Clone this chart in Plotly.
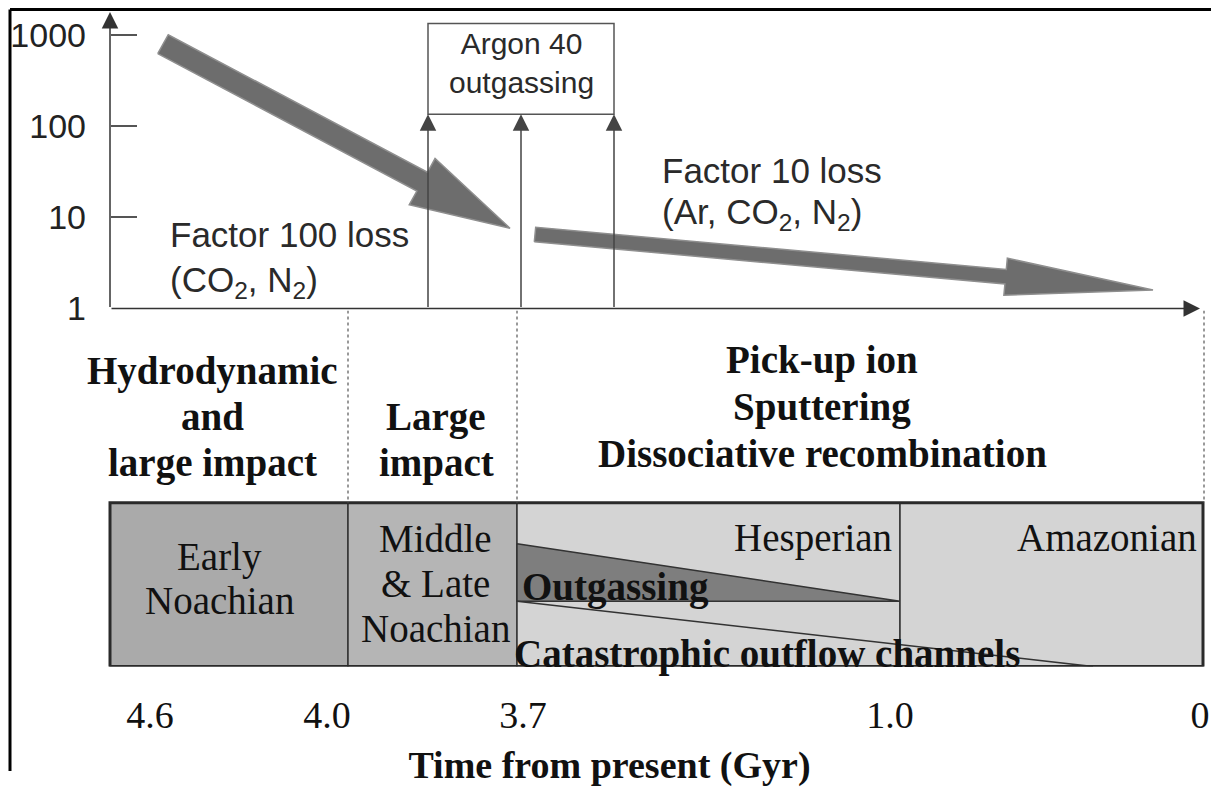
import numpy as np
import plotly.graph_objects as go

# ---- data -------------------------------------------------------------
y_ticks = [1, 10, 100, 1000]
y_tick_text = ["1", "10", "100", "1000"]

# atmospheric loss arrows (relative inventory at start / end)
loss_start = [800, 6.5]
loss_end = [7.6, 1.6]

argon_top = 136          # argon-40 outgassing arrows reach the box
argon_box_top = 1350

time_labels = ["4.6", "4.0", "3.7", "1.0", "0"]
eras = [["Early", "Noachian"], ["Middle", "& Late", "Noachian"], ["Hesperian"], ["Amazonian"]]
mechanisms = [
    ["Hydrodynamic", "and", "large impact"],
    ["Large", "impact"],
    ["Pick-up ion", "Sputtering", "Dissociative recombination"],
]

# ---- schematic layout (page-pixel-like units) ------------------------------
W, H = 1219, 798
OFF = 8                          # the page body margin
FW, FH = W - 2 * OFF, H - 2 * OFF


def px(p):                       # page x -> paper x
    return (p - OFF) / FW


def py(p):                       # page y -> paper y
    return 1 - (p - OFF) / FH


AX_X = 110                       # y axis position
TOP_PIX, BASE_PIX = 12, 316      # top panel vertical extent
LOG_TOP = 3 * (BASE_PIX - TOP_PIX) / (BASE_PIX - 36)
K = (BASE_PIX - TOP_PIX) / LOG_TOP   # px per decade

loss_x = [(163, 510), (535, 1153)]
loss_shape = [(11, 27, 100), (7.5, 19, 148)]
argon_x = [428, 521, 614]
tick_x = [150, 327, 523, 890, 1200]
era_edges = [110, 348, 517, 900, 1203]
era_colors = ["#aaaaaa", "#b5b5b5", "#d4d4d4", "#d4d4d4"]
dotted_x = [348, 517, 1204]
BAND_TOP, BAND_BOT = 515, 683

SANS = "Liberation Sans"
SERIF = "Liberation Serif"

fig = go.Figure()


def arrow_poly(x0, v0, x1, v1, half, head_half, head_len):
    a = np.array([x0, -np.log10(v0) * K])
    b = np.array([x1, -np.log10(v1) * K])
    d = (b - a) / np.linalg.norm(b - a)
    n = np.array([-d[1], d[0]])
    base = b - d * head_len
    pts = [a + n * half, base + n * half, base + n * head_half, b,
           base - n * head_half, base - n * half, a - n * half, a + n * half]
    xs = [p[0] for p in pts]
    vs = [10 ** (-p[1] / K) for p in pts]
    return xs, vs


for (x0, x1), (v0, v1), shp in zip(loss_x, zip(loss_start, loss_end), loss_shape):
    xs, vs = arrow_poly(x0, v0, x1, v1, *shp)
    fig.add_trace(go.Scatter(x=xs, y=vs, mode="lines", fill="toself",
                             fillcolor="#6d6d6d", line=dict(color="#8f8f8f", width=1.5),
                             hoverinfo="skip", xaxis="x", yaxis="y"))

# outgassing triangle and catastrophic outflow wedge in the time band
fig.add_trace(go.Scatter(x=[era_edges[2], era_edges[3], era_edges[2], era_edges[2]],
                         y=[557, 616, 616, 557], mode="lines", fill="toself",
                         fillcolor="#7e7e7e", line=dict(color="#333", width=1.5),
                         hoverinfo="skip", xaxis="x2", yaxis="y2"))
fig.add_trace(go.Scatter(x=[era_edges[2], 1093], y=[616, BAND_BOT], mode="lines",
                         line=dict(color="#333", width=1.5),
                         hoverinfo="skip", xaxis="x2", yaxis="y2"))

shapes = []
# era band
for i in range(len(eras)):
    shapes.append(dict(type="rect", xref="x2", yref="y2", x0=era_edges[i], x1=era_edges[i + 1],
                       y0=BAND_TOP, y1=BAND_BOT, fillcolor=era_colors[i],
                       line=dict(color="#333", width=1.5), layer="below"))
shapes.append(dict(type="rect", xref="x2", yref="y2", x0=era_edges[0], x1=era_edges[-1],
                   y0=BAND_TOP, y1=BAND_BOT, line=dict(color="#2a2a2a", width=3)))
for x in dotted_x:
    shapes.append(dict(type="line", xref="x2", yref="y2", x0=x, x1=x, y0=BASE_PIX + 2, y1=BAND_TOP,
                       line=dict(color="#777", width=1.5, dash="dot")))
# argon box
shapes.append(dict(type="rect", xref="x", yref="y", x0=argon_x[0], x1=argon_x[-1],
                   y0=argon_top, y1=argon_box_top,
                   line=dict(color="#555", width=1.5), fillcolor="white"))
# frame
shapes += [
    dict(type="line", xref="paper", yref="paper", x0=px(10), x1=px(10), y0=0, y1=py(9.5),
         line=dict(color="black", width=3)),
    dict(type="line", xref="paper", yref="paper", x0=px(10), x1=1, y0=py(9.5), y1=py(9.5),
         line=dict(color="black", width=3)),
]

ann = []


def arrow(x, y, ax, ay, color="#333"):
    return dict(x=x, y=y, ax=ax, ay=ay, xref="x", yref="y", axref="x", ayref="y", text="",
                showarrow=True, arrowhead=2, arrowsize=2.2, arrowwidth=1.5, arrowcolor=color)


def text_lines(lines, x, y0, step, font, xanchor="center", bold=False):
    out = []
    for i, t in enumerate(lines):
        out.append(dict(x=x, y=y0 + i * step, xref="x2", yref="y2",
                        text=f"<b>{t}</b>" if bold else t, xanchor=xanchor,
                        showarrow=False, font=font))
    return out


ann.append(arrow(AX_X, LOG_TOP, AX_X, 0))
ann.append(arrow(1200, 0, AX_X, 0))
for x in argon_x:
    ann.append(arrow(x, np.log10(argon_top), x, 0, "#444"))

top_font = dict(family=SANS, size=35, color="#2a2a2a")
ann += [
    dict(x=521, y=2.7, xref="x", yref="y", text="Argon 40<br>outgassing", showarrow=False,
         font=dict(family=SANS, size=30, color="#2a2a2a")),
    dict(x=168, y=0.814, xref="x", yref="y", text="Factor 100 loss", xanchor="left",
         showarrow=False, font=top_font),
    dict(x=168, y=0.29, xref="x", yref="y", text="(CO<sub>2</sub>, N<sub>2</sub>)", xanchor="left",
         showarrow=False, font=top_font),
    dict(x=660, y=1.511, xref="x", yref="y", text="Factor 10 loss", xanchor="left",
         showarrow=False, font=top_font),
    dict(x=660, y=1.04, xref="x", yref="y", text="(Ar, CO<sub>2</sub>, N<sub>2</sub>)",
         xanchor="left", showarrow=False, font=top_font),
]

serif_font = dict(family=SERIF, size=39, color="#111")
ann += text_lines(mechanisms[0], 212, 380, 47, serif_font, bold=True)
ann += text_lines(mechanisms[1], 436, 427, 47, serif_font, bold=True)
ann += text_lines(mechanisms[2], 822, 369, 48, serif_font, bold=True)

ann += text_lines(eras[0], 219, 571, 44, serif_font)
ann += text_lines(eras[1], 435, 552, 46, serif_font)
ann += text_lines(eras[2], 894, 551, 0, serif_font, xanchor="right")
ann += text_lines(eras[3], 1199, 551, 0, serif_font, xanchor="right")
ann += text_lines(["Outgassing"], 520, 601, 0, serif_font, xanchor="left", bold=True)
ann += text_lines(["Catastrophic outflow channels"], 512, 670, 0, serif_font, xanchor="left", bold=True)

fig.update_layout(
    width=FW, height=FH, margin=dict(l=0, r=0, t=0, b=0),
    paper_bgcolor="white", plot_bgcolor="rgba(0,0,0,0)", showlegend=False,
    xaxis=dict(range=[OFF, OFF + FW], domain=[0, 1], anchor="y", visible=False),
    yaxis=dict(type="log", range=[0, LOG_TOP], domain=[py(BASE_PIX), py(TOP_PIX)],
               anchor="free", position=px(AX_X), tickvals=y_ticks, ticktext=y_tick_text,
               ticks="inside", ticklen=26, tickwidth=1.5, tickcolor="#555",
               showline=False, showgrid=False, zeroline=False, ticklabelstandoff=24,
               tickfont=dict(family=SANS, size=34, color="#222")),
    xaxis2=dict(range=[OFF, OFF + FW], domain=[0, 1], anchor="y2", tickvals=tick_x,
                ticktext=time_labels, ticks="", showline=False, showgrid=False, zeroline=False,
                ticklabelstandoff=22, tickfont=dict(family=SERIF, size=38, color="#111"),
                title=dict(text="<b>Time from present (Gyr)</b>", standoff=16,
                           font=dict(family=SERIF, size=38, color="#111"))),
    yaxis2=dict(range=[BAND_BOT, BASE_PIX + 2], domain=[py(BAND_BOT), py(BASE_PIX + 2)],
                anchor="x2", visible=False),
    shapes=shapes, annotations=ann,
)

fig.write_html("out.html")
